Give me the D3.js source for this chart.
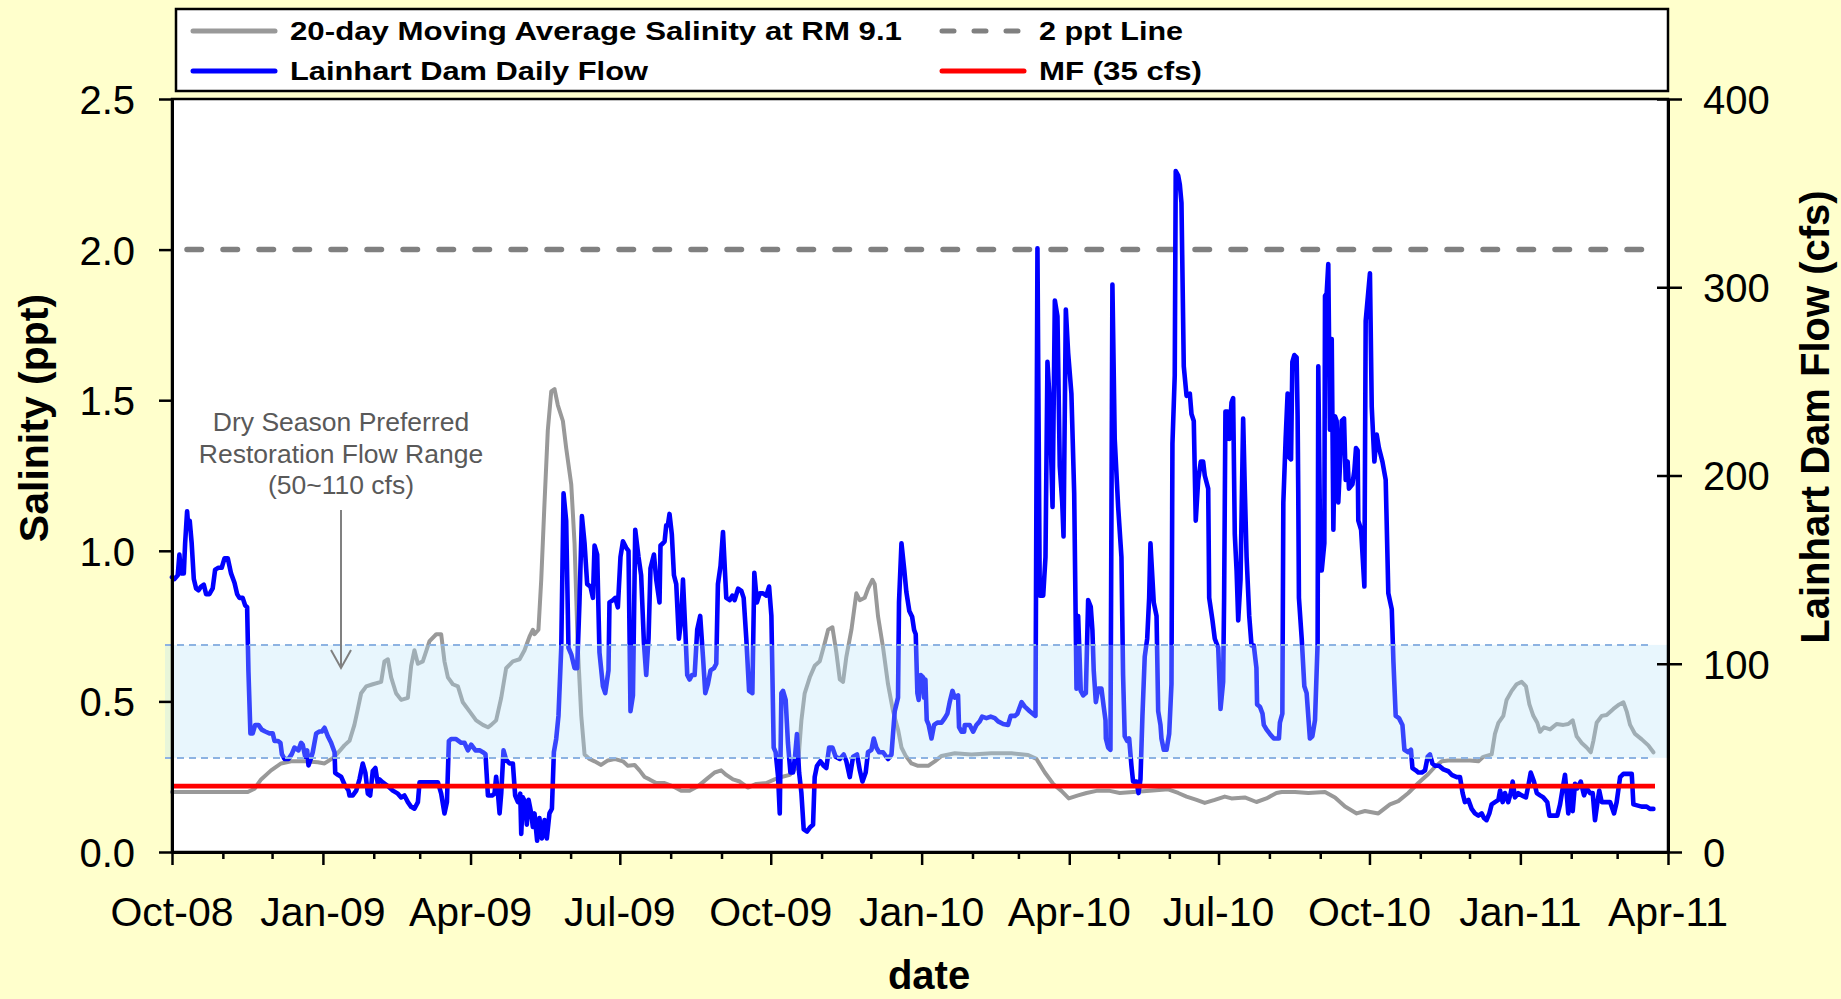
<!DOCTYPE html>
<html><head><meta charset="utf-8">
<script src="https://cdn.jsdelivr.net/npm/d3@7"></script>
<style>
html,body{margin:0;padding:0;background:#FFFFCC;}
svg{display:block;}
text{font-family:"Liberation Sans",Arial,sans-serif;}
</style></head><body>
<svg id="chart" width="1841" height="999"></svg>
<script>
// ---------------- data ----------------
const startDate = "2008-10-01";
const endDate = "2011-04-01";
const xTickLabels = ["Oct-08","Jan-09","Apr-09","Jul-09","Oct-09","Jan-10","Apr-10","Jul-10","Oct-10","Jan-11","Apr-11"];
const salinityTicks = [0, 0.5, 1.0, 1.5, 2.0, 2.5];
const flowTicks = [0, 100, 200, 300, 400];
const twoPptLine = 2;
const minimumFlowCfs = 35;
const restorationRange = [50, 110];
const legendLabels = ["20-day Moving  Average Salinity  at RM 9.1", "2 ppt  Line", "Lainhart Dam Daily Flow", "MF (35 cfs)"];
const annotationLines = ["Dry Season Preferred", "Restoration Flow Range", "(50~110 cfs)"];
const axisTitles = {left: "Salinity (ppt)", right: "Lainhart Dam Flow (cfs)", bottom: "date"};

// [days since 2008-10-01, cfs]
const flowSeries = [[0,146],[1.5,145],[3.5,147],[4.5,158],[5.5,148],[7.2,148],[8,164],[9.2,181],[10,172],[10.8,176],[12,164],[13.3,145],[14.7,140],[16.1,139],[17.7,141],[19.4,142],[20.8,137],[22.8,137],[24.8,140],[26.3,150],[28.3,151],[30.3,151],[32,156],[34,156],[36,148],[38.1,143],[39.7,137],[41.1,135],[43.1,135],[44.6,131],[45.8,130],[46.6,96],[47.8,63],[49.2,63],[50.7,67.5],[52.7,67.5],[54.7,65],[56.8,64],[59.4,63],[61.4,63],[62.5,59],[64.5,59],[66.1,58],[67,52],[68.6,49.4],[71,49.4],[73,52],[74.7,55.5],[77.1,54],[78.7,58],[79.7,57],[81.2,50.6],[82.4,54],[83.2,46],[84.4,49],[85.8,53],[87.9,63],[89.9,64],[91.3,64],[93,66],[95,61.5],[97,58],[99.1,53],[99.5,42],[101.1,41],[103.1,40],[105.1,36],[107.6,32.6],
[108.2,30],[110.2,30],[112.3,32.6],[114.3,38.6],[116.3,47],[117.9,42],[119.4,31],[120.8,30],[122.4,43],[124,44.6],[125.5,36],[126.5,38.6],[128.5,37],[131.6,35],[134.6,32.6],[137.7,31],[139.7,29],[141.7,30],[143.8,26.5],[145.8,24],[147.8,23],[149.9,26.5],[150.9,37],[153.9,37],[158,37],[162.1,37],[164.1,31],[166.1,20.5],[167.6,26.5],[168.8,59],[170.2,60],[173.2,60],[176.3,58],[178.3,58],[180.4,54],[182.4,57],[185,54],[187.5,54],[189.5,53],[191.1,52],[192.6,30],[195.2,30],[196.6,31],[197.6,40],[198.7,31],[199.7,20.5],[200.7,31],[202.1,54],[203.7,49],[205.8,47],[207.8,47],[209.2,30],[210.9,26.5],[212.3,31],[212.9,9.6],[213.9,29],[215.3,26.5],[216.3,14.5],[217.4,27.7],[219,20.5],[220,13.3],
[221,20.5],[222.6,6],[224,18],[225.5,7.2],[227.1,17],[228.5,7.2],[230.1,20.5],[231.6,23],[232.8,53],[234.2,60],[235.6,72.3],[237.3,108.5],[238.7,190.5],[240.3,176],[241.7,108.5],[243.4,105],[245.4,97.7],[247,97.7],[248.4,132.6],[249.9,178.4],[251.5,164],[253.1,142.3],[255.1,141],[256.6,135],[257.6,162.8],[259.2,158],[260.6,106],[262.7,88],[264.1,84.4],[266.1,96.5],[266.7,132.6],[268.8,133.8],[270.2,135],[271.8,130],[273.4,156.7],[274.9,165],[276.9,161.6],[278.3,160],[279.5,74.8],[281,83.2],[282.4,171.2],[284.4,156.7],[286,147],[287.7,111],[289.1,94],[290.5,113.3],[291.7,150.7],[293.8,158],[295.2,144.7],[297.2,132.6],[297.8,162.8],[299.3,164],[300.3,165],[301.3,173.6],[302.3,173.6],[303.3,179.6],[304.7,168.8],[306,147],[307.4,142.3],[309,113.3],[310.4,123],[311.5,144.7],[312.9,118.2],[314.1,94],[315.5,91.6],[317,94],[318.6,94],[320.2,118.2],[322,125.4],[323.7,103.7],[325.1,84.4],[326.7,89.2],[328.3,96.5],[330.4,97.7],[331.8,100],[332.8,142.3],[334.4,152],[335.9,170],
[337.9,135],[340,133.8],[341.6,136.2],[343,133.8],[345.1,139.9],[347.1,138.7],[348.5,135],[350.1,113.3],[351.8,85.6],[353.8,84.4],[355,148.3],[356.6,132.6],[358.3,137.4],[360.3,137.4],[362.3,136.2],[364,141],[365.4,125.4],[366.8,55.5],[368,53],[369.5,39.8],[370.5,20.5],[371.5,84.4],[372.5,85.6],[374.1,80.8],[375.5,57.9],[377,42.2],[378.6,42.2],[379.8,50.6],[381,62.7],[382.3,42.2],[383.7,31.3],[385.1,12],[387.1,10.9],[389.2,13.3],[390.8,14.5],[391.8,39.8],[393.2,45.8],[395.3,48.2],[397.3,45.8],[398.9,44.6],[400.6,55.5],[402.6,55.5],[404.6,50.6],[407.1,49.4],[409.5,51.8],[411.1,48.2],[413.2,39.8],[415.2,50.6],[417.6,51.8],[419.3,43.4],[420.9,37.4],[422.9,42.2],[424.3,53],[426.4,54.3],[427.8,60.3],[429.4,55.5],[431,53],[433.5,53],[436.5,49.4],[438.6,51.8],[440.6,74.8],[442.6,82],[443.2,132.6],[444.7,164],[446.4,150],[447.7,138],[449.5,128],[451.2,125],[452.4,118],[453.4,115.7],
[454.4,84.4],[455.2,80.8],[456.5,94],[457.9,92.8],[458.5,82],[459.3,91.6],[460.1,70],[461.3,67.5],[463,60.3],[464.6,67.5],[466.6,68.7],[469.1,68.7],[471.1,71.1],[472.7,73.5],[474.1,79.6],[475.8,85.6],[477.2,82],[479.2,83.2],[479.8,66.3],[481.3,63.9],[482.9,63.9],[483.3,67.5],[486.3,67.5],[488.4,63.9],[490.4,67.5],[492.4,69.4],[493.9,71.9],[496.5,71.1],[499.1,71.9],[501.6,71.1],[503.6,69.4],[506.7,68],[509.7,67.5],[511.3,72.3],[513.8,72.3],[515.4,73.5],[517.9,79.6],[519.9,77.2],[522.9,74.8],[526.4,72.3],[527.6,320.7],[529,136.2],[531.1,136.2],[532.5,156.7],[533.7,260.4],[535.1,238.7],[536.8,183.3],[538.2,293],[539.8,284.5],[541.2,205],[542.7,185.7],[543.5,167.6],[544.9,288.2],[546.3,265.3],[548.3,243.5],[550,190.5],[551.4,86.8],[552.4,125.4],[554,85.6],[555.5,83.2],[557.1,84.4],[558.5,133.8],[560.1,130.2],[561.1,118],
[561.9,96.5],[563.2,79.6],[564.6,86.8],[566.6,86.8],[568,77.2],[569.1,70],[569.3,60.3],[570.7,55.5],[572.1,54.3],[573.3,301.4],[574.7,219.4],[576.8,183.3],[578.8,156.7],[579.3,125.4],[579.8,94],[580.8,61.5],[582.3,59],[583.5,60.3],[584.9,45.8],[585.9,37.4],[588,37.4],[589.2,31.3],[590.4,38.6],[591.6,72.3],[593,103.7],[594.5,113.3],[595.7,135],[596.5,164],[598.5,132.6],[600.2,125.4],[601.2,74.8],[602.6,67.5],[603.2,60.3],[604.6,54.3],[606.3,54.3],[607.9,62.7],[609.3,89.2],[609.9,217],[611.3,253.2],[611.9,361.7],[613.4,359.3],[614.4,354.5],[615.4,344.8],[616.8,258],[618.5,242.3],[620.5,243.5],[621.5,232.7],[622.9,229],[624.1,176],[625.6,197.7],[627.2,207.4],[628.6,207.4],[629.6,200],[631.7,193],[632.3,135],[634.3,123],[635.7,113.3],[637.8,108.5],[639.2,76],[640.8,90.4],[641.4,135],[642.2,234],[643.5,234],[644.5,219.4],[645.9,238.7],[646.9,241.1],[647.9,168.8],[649,149.5],[650,123],[651.4,144.7],[653,230.3],[654,193],[655.1,156.7],[656.7,125.4],[658.1,109.7],[659.5,109.7],[661.1,97.7],[661.5,78.4],[663.2,77.2],[664.8,73.5],[665.6,67.5],[667.2,65.1],[669.3,62.7],[671.7,60.3],
[674.8,60.3],[675.4,68.7],[676.9,73.5],[677.5,185.7],[678.9,219.4],[680.1,243.5],[680.9,209.8],[682.2,208.6],[683,260.4],[684.2,264],[685.6,262.8],[686.2,231.5],[686.6,190.5],[687,135],[688.7,113.3],[690.3,88],[691.7,84.4],[692.7,72.3],[693.7,60.3],[695.2,61.5],[696.8,70],[698.4,111],[698.8,258],[699.8,176],[700.9,149.5],[702.5,164],[702.9,295.4],[703.9,296.6],[704.9,312.3],[705.9,224.3],[707,272.5],[708,171.2],[709,231.5],[710,229],[711,185.7],[712,205],[713.1,229],[714.5,230.3],[715.5,197.7],[716.7,207.4],[717.5,193],[719.6,195.3],[720.8,202.6],[721.8,214.6],[722.8,213.4],[723.2,176],[724.9,171.2],[726.9,141],[727.7,282.1],[730.3,307.4],[731.4,236.3],[733,207.4],[734.4,221.8],[735.8,214.6],[737.9,207.4],[739.9,197.7],[741.5,137.4],[743.6,129],[744.6,101.3],[746,72.3],[748,71.1],[750.1,67.5],[751.3,54.3],[753.7,53],[755.3,54.3],[756.2,44.6],[758.2,43.4],[759.8,42.2],[761.9,42.2],[763.9,43.4],[765.5,50.6],[766.9,51.8],[768.4,47],[770,45.8],[772.4,45.8],[775.1,43.9],[778.1,42.9],[780.1,41],[783.2,39.8],[785.2,39.8],
[786.8,31.3],[788.2,26.5],[790.3,27.7],[792.3,22.9],[794.3,20.5],[796.4,19.3],[798.4,20.5],[799.8,18.1],[801.4,16.9],[803.1,20.5],[804.5,25.3],[806.5,26.5],[808.6,27.7],[809.6,32.6],[811.2,26.5],[812.6,31.3],[814.6,26.5],[816.1,31.3],[817.3,37.4],[818.7,29],[820.7,31.3],[822.8,30.1],[825.4,29],[826.8,35],[828.3,42.2],[830.3,37.4],[832,31.3],[834,30.1],[836,29],[838.4,26.5],[839.7,19.3],[842.1,19.3],[844.5,19.3],[846.2,25.3],[847.8,33.8],[849.2,41],[850.2,31.3],[851.2,20.5],[852.7,33.8],[853.9,21.7],[855.3,36.2],[856.7,33.8],[858.8,37.4],[860.8,30.1],[862.4,33.8],[864.5,31.3],[866.1,31.3],[867.5,16.9],[869,26.5],[870.1,32.6],[871.6,26.5],[876.7,26.5],[879.1,20.5],[880.7,26.5],[882.8,39.8],[884.8,41.5],[889.9,41.5],[890.9,25.3],[895.9,24.1],[899,24.1],[901,22.9],[903.1,22.9]];

// [days since 2008-10-01, ppt]
const salinitySeries = [[0,0.199],[46.2,0.199],[50.3,0.21],[54.3,0.241],[60.4,0.271],[66.5,0.294],[72.6,0.301],[80.8,0.301],[88.9,0.298],[93,0.294],[99.1,0.316],[105.1,0.354],[108.2,0.369],[111.2,0.422],[113.3,0.475],[115.3,0.527],[118.4,0.55],[122.4,0.557],[127.5,0.565],[129.5,0.633],[131.6,0.64],[133.6,0.58],[136.6,0.527],[139.7,0.505],[143.8,0.512],[145.8,0.618],[147.8,0.67],[149.9,0.625],[152.9,0.633],[157,0.7],[161.1,0.723],[164.1,0.723],[166.1,0.633],[168.2,0.58],[171.2,0.557],[174.3,0.55],[177.3,0.497],[181.4,0.467],[185.4,0.437],[189.5,0.422],[192.6,0.414],[194.6,0.422],[197.6,0.437],[200.7,0.512],[203.7,0.61],[207.8,0.633],[211.9,0.64],[214.9,0.67],[218,0.716],[220,0.738],[221,0.723],[223.4,0.738],[225.1,0.904],[227.1,1.16],[229.1,1.4],[231.2,1.529],[233.2,1.537],[235.2,1.484],[238.3,1.431],[240.3,1.341],[243.4,1.22],[245.4,1.025],[247.4,0.678],[249.5,0.452],[251.5,0.324],[254.5,0.309],[257.6,0.301],[261.6,0.289],[265.7,0.304],[269.8,0.309],[274.9,0.301],[277.9,0.286],[282,0.289],[285,0.271],[288.1,0.249],[291.1,0.241],[295.2,0.229],[300.3,0.229],[305.4,0.218],[310.4,0.203],[315.5,0.203],[320.6,0.218],[325.7,0.241],[330.8,0.264],[334.8,0.271],[337.9,0.256],[342,0.241],[346.1,0.234],[351.1,0.214],[356.2,0.226],[362.3,0.229],[367.4,0.241],[371.5,0.249],[376.6,0.256],[381.6,0.286],[383.7,0.437],[385.7,0.527],[388.8,0.58],[391.8,0.618],[394.9,0.633],[397.9,0.693],[400,0.738],[402.6,0.746],[405,0.663],[407.1,0.573],[409.1,0.565],[411.1,0.648],[414.2,0.738],[417.2,0.859],[419.3,0.836],[422.3,0.844],[424.3,0.874],[427,0.904],[428.4,0.889],[430.4,0.783],[433.5,0.678],[436.5,0.557],[439.6,0.467],[442.6,0.407],[444.7,0.347],[447.2,0.32],[450.8,0.294],[454.8,0.286],[461,0.286],[465,0.301],[469.1,0.319],[477.2,0.328],[487.4,0.324],[499.6,0.328],[511.8,0.328],[521.9,0.322],[527,0.309],[532.1,0.264],[537.2,0.226],[542.2,0.203],[546.7,0.178],[552.4,0.188],[557.5,0.196],[563.6,0.203],[571.7,0.203],[577.8,0.196],[585.9,0.199],[596.1,0.203],[607.3,0.208],[613.4,0.196],[618.5,0.184],[624.6,0.173],[629.6,0.163],[635.7,0.173],[641.8,0.184],[645.9,0.178],[654,0.181],[661.1,0.166],[667.2,0.178],[673.3,0.196],[676.5,0.199],[684.6,0.199],[692.7,0.196],[702.9,0.199],[709,0.181],[715.1,0.151],[722.2,0.128],[727.3,0.136],[735.4,0.128],[742.5,0.158],[747.6,0.169],[753.7,0.196],[759.8,0.229],[765.9,0.259],[770,0.283],[774,0.301],[778.1,0.304],[786.2,0.304],[791.3,0.304],[796.4,0.301],[799.4,0.316],[804.5,0.324],[806.5,0.392],[808.6,0.429],[811.6,0.452],[813.6,0.505],[816.7,0.535],[819.7,0.557],[822.8,0.565],[825.4,0.55],[827.5,0.49],[829.9,0.452],[832.3,0.429],[834,0.399],[836.4,0.414],[840.1,0.407],[844.1,0.425],[848.2,0.422],[851.2,0.425],[853.9,0.437],[856.3,0.384],[859.4,0.362],[862.4,0.347],[864.9,0.331],[866.5,0.369],[868.5,0.429],[871.6,0.452],[874.6,0.455],[878.7,0.475],[882.3,0.49],[884.8,0.497],[886.8,0.467],[888.9,0.422],[891.9,0.392],[896,0.374],[900,0.354],[903.1,0.331]];

// ---------------- layout ----------------
const W = 1841, H = 999;
const plot = {left: 172, right: 1668, top: 99, bottom: 852};
const FONT = '"Liberation Sans", Arial, sans-serif';

const svg = d3.select("#chart");
const t0 = new Date(startDate + "T00:00:00Z");
const t1 = new Date(endDate + "T00:00:00Z");
const dayToDate = d => new Date(t0.getTime() + d * 864e5);

const x = d3.scaleUtc().domain([t0, t1]).range([plot.left, plot.right]);
const ySal = d3.scaleLinear().domain([0, 2.5]).range([plot.bottom, plot.top]);
const yFlow = d3.scaleLinear().domain([0, 400]).range([plot.bottom, plot.top]);

svg.append("rect").attr("width", W).attr("height", H).attr("fill", "#FFFFCC");
svg.append("rect").attr("x", plot.left).attr("y", plot.top)
  .attr("width", plot.right - plot.left).attr("height", plot.bottom - plot.top)
  .attr("fill", "#FFFFFF");

// 2 ppt dashed line
svg.append("line")
  .attr("x1", 187).attr("x2", 1647)
  .attr("y1", ySal(twoPptLine)).attr("y2", ySal(twoPptLine))
  .attr("stroke", "#808080").attr("stroke-width", 5.5)
  .attr("stroke-dasharray", "14.5,21.5").attr("stroke-linecap", "round");

// salinity line
const salLine = d3.line().x(d => x(dayToDate(d[0]))).y(d => ySal(d[1]));
svg.append("path").datum(salinitySeries).attr("d", salLine)
  .attr("fill", "none").attr("stroke", "#999999").attr("stroke-width", 4)
  .attr("stroke-linejoin", "round").attr("stroke-linecap", "round");

// flow line
const flowLine = d3.line().x(d => x(dayToDate(d[0]))).y(d => yFlow(d[1]));
svg.append("path").datum(flowSeries).attr("d", flowLine)
  .attr("fill", "none").attr("stroke", "#0000FF").attr("stroke-width", 4.6)
  .attr("stroke-linejoin", "round").attr("stroke-linecap", "round");

// MF red line
svg.append("line")
  .attr("x1", plot.left).attr("x2", 1655)
  .attr("y1", yFlow(minimumFlowCfs)).attr("y2", yFlow(minimumFlowCfs))
  .attr("stroke", "#FF0000").attr("stroke-width", 4.8);

// restoration band (semi-transparent, drawn over the lines)
svg.append("rect")
  .attr("x", 165).attr("y", yFlow(restorationRange[1]))
  .attr("width", plot.right - 165).attr("height", yFlow(restorationRange[0]) - yFlow(restorationRange[1]))
  .attr("fill", "rgb(178,225,248)").attr("fill-opacity", 0.3);
restorationRange.forEach(v => {
  svg.append("line").attr("x1", 165).attr("x2", 1652)
    .attr("y1", yFlow(v)).attr("y2", yFlow(v))
    .attr("stroke", "#8DB3E2").attr("stroke-width", 2).attr("stroke-dasharray", "7,5");
});

// frame
svg.append("rect").attr("x", plot.left).attr("y", plot.top)
  .attr("width", plot.right - plot.left).attr("height", plot.bottom - plot.top)
  .attr("fill", "none").attr("stroke", "#000").attr("stroke-width", 2.5);

// left axis
const gL = svg.append("g").attr("transform", `translate(${plot.left},0)`)
  .call(d3.axisLeft(ySal).tickValues(salinityTicks).tickFormat(d3.format(".1f"))
    .tickSizeInner(13).tickSizeOuter(0).tickPadding(24));
gL.select(".domain").attr("stroke", "#000").attr("stroke-width", 3);
gL.selectAll(".tick line").attr("stroke", "#000").attr("stroke-width", 2.5);
gL.selectAll(".tick text").attr("font-family", FONT).attr("font-size", 40).attr("fill", "#000").attr("dy", "0.36em");

// right axis
const gR = svg.append("g").attr("transform", `translate(${plot.right},0)`)
  .call(d3.axisRight(yFlow).tickValues(flowTicks).tickFormat(d3.format("d"))
    .tickSizeInner(14).tickSizeOuter(0).tickPadding(21));
gR.select(".domain").attr("stroke", "#000").attr("stroke-width", 3);
gR.selectAll(".tick line").attr("x1", -11).attr("stroke", "#000").attr("stroke-width", 2.5);
gR.selectAll(".tick text").attr("font-family", FONT).attr("font-size", 40).attr("fill", "#000").attr("dy", "0.36em");

// bottom axis: monthly ticks, labels every 3 months
const months = d3.utcMonth.range(t0, d3.utcDay.offset(t1, 1));
const gB = svg.append("g").attr("transform", `translate(0,${plot.bottom})`)
  .call(d3.axisBottom(x).tickValues(months).tickFormat("").tickSizeInner(7).tickSizeOuter(0));
gB.select(".domain").attr("stroke", "#000").attr("stroke-width", 3);
gB.selectAll(".tick line").attr("stroke", "#000").attr("stroke-width", 2.5)
  .attr("y2", (d, i) => i % 3 === 0 ? 13 : 7);
const majorMonths = months.filter((d, i) => i % 3 === 0);
svg.append("g").selectAll("text").data(majorMonths).join("text")
  .attr("x", d => x(d)).attr("y", 926)
  .attr("text-anchor", "middle").attr("font-family", FONT).attr("font-size", 41)
  .attr("fill", "#000")
  .text((d, i) => xTickLabels[i]);

// axis titles
svg.append("text").attr("transform", "translate(48,418) rotate(-90)")
  .attr("text-anchor", "middle").attr("font-family", FONT).attr("font-weight", "bold")
  .attr("font-size", 41).attr("fill", "#000").text(axisTitles.left);
svg.append("text").attr("transform", "translate(1829,417) rotate(-90)")
  .attr("text-anchor", "middle").attr("font-family", FONT).attr("font-weight", "bold")
  .attr("font-size", 40).attr("fill", "#000").text(axisTitles.right);
svg.append("text").attr("x", 929).attr("y", 989)
  .attr("text-anchor", "middle").attr("font-family", FONT).attr("font-weight", "bold")
  .attr("font-size", 40).attr("fill", "#000").text(axisTitles.bottom);

// annotation
const ann = svg.append("g");
annotationLines.forEach((s, i) => {
  ann.append("text").attr("x", 341).attr("y", 431 + i * 31.5)
    .attr("text-anchor", "middle").attr("font-family", FONT).attr("font-size", 26.5)
    .attr("fill", "#595959").text(s);
});
ann.append("line").attr("x1", 341).attr("x2", 341).attr("y1", 510).attr("y2", 667)
  .attr("stroke", "#808080").attr("stroke-width", 2);
ann.append("path").attr("d", "M331,650 L341,668 L351,650")
  .attr("fill", "none").attr("stroke", "#808080").attr("stroke-width", 2);

// legend
const lg = svg.append("g");
lg.append("rect").attr("x", 176).attr("y", 9).attr("width", 1668 - 176).attr("height", 82)
  .attr("fill", "#FFFFFF").attr("stroke", "#000").attr("stroke-width", 2.5);
const legendItems = [
  {label: legendLabels[0], x: 191, y: 31, color: "#999999", dash: null, textW: 612},
  {label: legendLabels[1], x: 940, y: 31, color: "#808080", dash: "12,20", textW: 144},
  {label: legendLabels[2], x: 191, y: 71, color: "#0000FF", dash: null, textW: 358},
  {label: legendLabels[3], x: 940, y: 71, color: "#FF0000", dash: null, textW: 163}
];
legendItems.forEach(it => {
  lg.append("line").attr("x1", it.x + 2).attr("x2", it.x + 84).attr("y1", it.y).attr("y2", it.y)
    .attr("stroke", it.color).attr("stroke-width", 5).attr("stroke-linecap", "round")
    .attr("stroke-dasharray", it.dash);
  lg.append("text").attr("x", it.x + 99).attr("y", it.y + 9)
    .attr("font-family", FONT).attr("font-weight", "bold").attr("font-size", 26)
    .attr("textLength", it.textW).attr("lengthAdjust", "spacingAndGlyphs")
    .attr("fill", "#000").text(it.label);
});
</script>
</body></html>
